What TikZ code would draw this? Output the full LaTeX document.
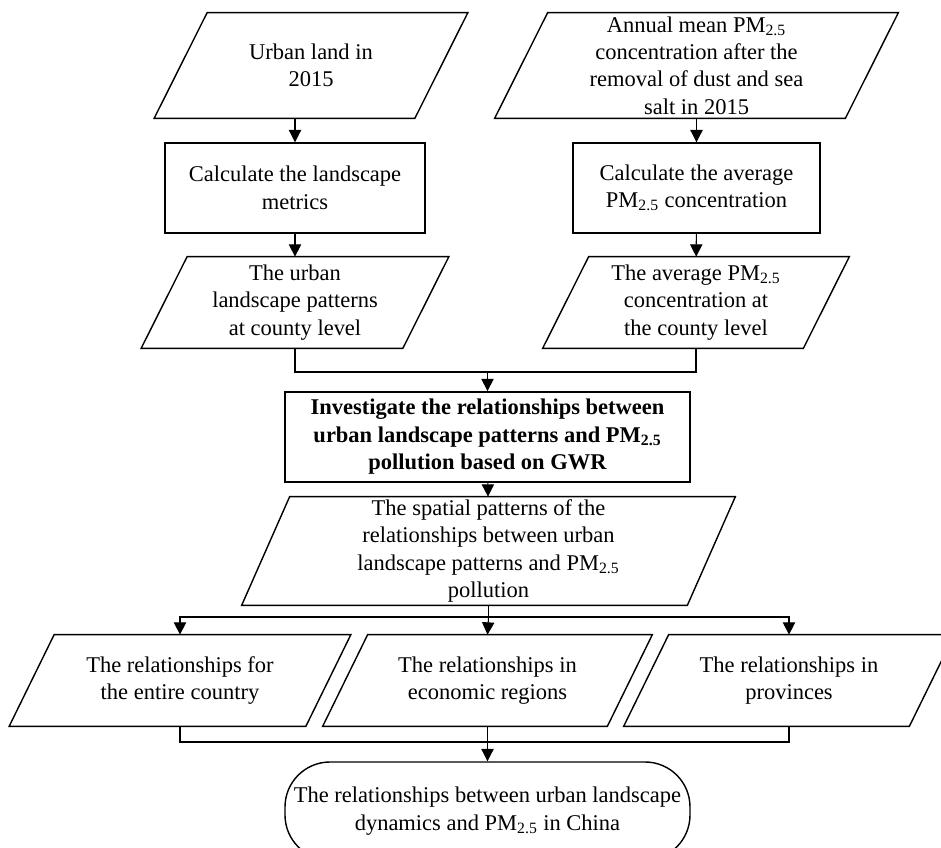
\documentclass[tikz,border=0pt]{standalone}
\usepackage{fontspec}
\setmainfont{Liberation Serif}
\usetikzlibrary{arrows.meta,positioning,shapes.geometric,calc}

\tikzset{
  iobox/.style={rectangle, inner sep=0pt, align=center},
  ioline/.style={draw, line width=0.8pt},
  procbox/.style={draw, line width=0.8pt, rectangle, align=center, minimum height=1.8cm},
  termbox/.style={draw, line width=0.8pt, rectangle, rounded corners=0.9cm, align=center,
    minimum height=1.96cm, minimum width=8.1cm},
  arr/.style={-{Triangle[length=7pt,width=7pt]}, line width=0.6pt},
  conn/.style={line width=0.6pt}
}
% parallelogram round an iobox node: #1 node name, #2 half of the slant
\newcommand{\ioframe}[2]{%
  \draw[ioline] ($(#1.north west)+(#2,0)$) -- ($(#1.north east)+(#2,0)$)
    -- ($(#1.south east)-(#2,0)$) -- ($(#1.south west)-(#2,0)$) -- cycle;}

\begin{document}
\begin{tikzpicture}[font=\fontsize{12.8}{15.6}\selectfont]

\useasboundingbox (0,0) rectangle (18.82,16.94);

% Inputs
\node[iobox, minimum width=5.2cm, minimum height=2.1cm] (in1) at (6.22,15.63)
  {Urban land in\\2015};
\node[iobox, minimum width=7.0cm, minimum height=2.1cm] (in2) at (13.93,15.63)
  {Annual mean PM\textsubscript{2.5}\\concentration after the\\removal of dust and sea\\salt in 2015};
\ioframe{in1}{0.53}
\ioframe{in2}{0.53}

% Processing
\node[procbox, minimum width=5.2cm] (calc1) at (5.9,13.18)
  {Calculate the landscape\\metrics};
\node[procbox, minimum width=4.94cm] (calc2) at (13.93,13.18)
  {Calculate the average\\PM\textsubscript{2.5} concentration};

% County level results
\node[iobox, minimum width=5.22cm, minimum height=1.82cm] (out1) at (5.9,10.89)
  {The urban\\landscape patterns\\at county level};
\node[iobox, minimum width=5.2cm, minimum height=1.82cm] (out2) at (13.92,10.89)
  {The average PM\textsubscript{2.5}\\concentration at\\the county level};
\ioframe{out1}{0.46}
\ioframe{out2}{0.46}

% GWR
\node[procbox, line width=1pt, minimum width=8.1cm, font=\fontsize{12.8}{15.6}\selectfont\bfseries]
  (gwr) at (9.75,8.2)
  {Investigate the relationships between\\urban landscape patterns and PM\textsubscript{2.5}\\pollution based on GWR};
\node[iobox, minimum width=8.9cm, minimum height=2.16cm] (spat) at (9.77,5.92)
  {The spatial patterns of the\\relationships between urban\\landscape patterns and PM\textsubscript{2.5}\\pollution};
\ioframe{spat}{0.48}

% Three scales
\node[iobox, minimum width=5.92cm, minimum height=1.82cm] (rel1) at (3.6,3.33)
  {The relationships for\\the entire country};
\node[iobox, minimum width=5.68cm, minimum height=1.82cm] (rel2) at (9.75,3.33)
  {The relationships in\\economic regions};
\node[iobox, minimum width=5.7cm, minimum height=1.82cm] (rel3) at (15.78,3.33)
  {The relationships in\\provinces};
\ioframe{rel1}{0.45}
\ioframe{rel2}{0.45}
\ioframe{rel3}{0.45}

% Final
\node[termbox] (fin) at (9.75,0.72)
  {The relationships between urban landscape\\dynamics and PM\textsubscript{2.5} in China};

% Connectors
\coordinate (j1) at (gwr.north |- 0,9.5);
\coordinate (j2) at (spat.south |- 0,4.6);
\coordinate (j3) at (fin.north |- 0,2.1);

\draw[arr] (calc1.north |- in1.south) -- (calc1.north);
\draw[arr] (calc1) -- (out1);
\draw[arr] (in2) -- (calc2);
\draw[arr] (calc2) -- (out2);

\draw[conn] (out1.south) |- (j1) -| (out2.south);
\draw[arr] (j1) -- (gwr.north);
\draw[arr] (gwr) -- (spat);

\draw[conn] (spat.south) -- (j2);
\draw[arr] (j2) -| (rel1.north);
\draw[arr] (j2) -- (rel2.north);
\draw[arr] (j2) -| (rel3.north);

\draw[conn] (rel1.south) |- (j3) -| (rel3.south);
\draw[conn] (rel2.south) -- (j3);
\draw[arr] (j3) -- (fin.north);

\end{tikzpicture}
\end{document}
